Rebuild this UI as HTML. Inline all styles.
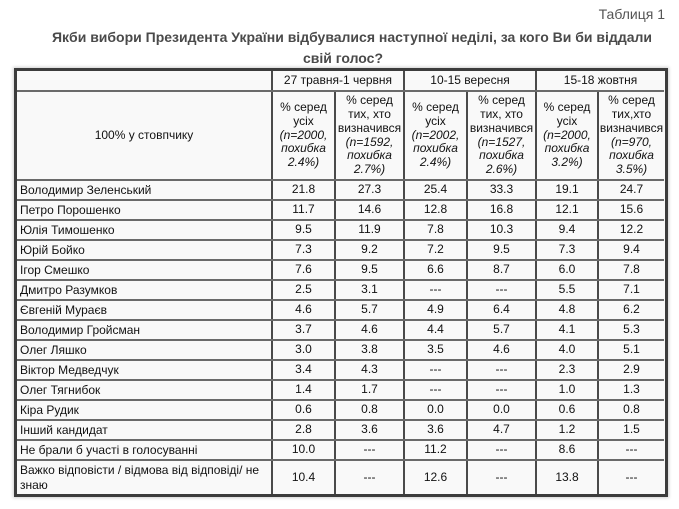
<!DOCTYPE html>
<html>
<head>
<meta charset="utf-8">
<style>
html,body{margin:0;padding:0;background:#fff;}
body{width:679px;height:509px;position:relative;overflow:hidden;font-family:"Liberation Sans",Arial,sans-serif;}
.cap{position:absolute;right:14px;top:6px;font-size:14px;line-height:16px;color:#555;}
.t{position:absolute;width:700px;text-align:center;font-size:14px;font-weight:bold;color:#4a4a4a;line-height:18px;white-space:nowrap;}
.frame{position:absolute;left:14px;top:68px;width:648px;height:423px;border:3px solid #3c3c3c;background:#f9f9f9;box-shadow:0 0 3px 1px rgba(0,0,0,0.18);}
.v{position:absolute;width:2px;background:#4a4a4a;}
.h{position:absolute;height:2px;left:17px;width:647px;background:#6a6a6a;}
.c{position:absolute;display:flex;align-items:center;justify-content:center;text-align:center;font-size:12px;color:#111;line-height:13.8px;white-space:nowrap;}
.c>div{text-align:center;}
.n{position:absolute;display:flex;align-items:center;font-size:12px;color:#111;left:20px;width:250px;line-height:15px;white-space:nowrap;}
i{font-style:italic;}
</style>
</head>
<body>
<div class="cap">Таблиця 1</div>
<div class="t" style="left:2px;top:28px;">Якби вибори Президента України відбувалися наступної неділі, за кого Ви би віддали</div>
<div class="t" style="left:-7px;top:49px;">свій голос?</div>

<div class="frame"></div>

<div class="v" style="left:271px;top:71px;height:423px;"></div>
<div class="v" style="left:403px;top:71px;height:423px;"></div>
<div class="v" style="left:535px;top:71px;height:423px;"></div>
<div class="v" style="left:334px;top:91px;height:403px;"></div>
<div class="v" style="left:466px;top:91px;height:403px;"></div>
<div class="v" style="left:597px;top:91px;height:403px;"></div>

<div class="h" style="top:90px;"></div>
<div class="h" style="top:179px;"></div>
<div class="h" style="top:199px;"></div>
<div class="h" style="top:219px;"></div>
<div class="h" style="top:239px;"></div>
<div class="h" style="top:259px;"></div>
<div class="h" style="top:279px;"></div>
<div class="h" style="top:299px;"></div>
<div class="h" style="top:319px;"></div>
<div class="h" style="top:339px;"></div>
<div class="h" style="top:359px;"></div>
<div class="h" style="top:379px;"></div>
<div class="h" style="top:399px;"></div>
<div class="h" style="top:419px;"></div>
<div class="h" style="top:439px;"></div>
<div class="h" style="top:459px;"></div>

<div class="c" style="left:273px;top:71px;width:130px;height:19px;"><div>27 травня-1 червня</div></div>
<div class="c" style="left:405px;top:71px;width:130px;height:19px;"><div>10-15 вересня</div></div>
<div class="c" style="left:537px;top:71px;width:127px;height:19px;"><div>15-18 жовтня</div></div>

<div class="c" style="left:17px;top:92px;width:254px;height:87px;"><div>100% у стовпчику</div></div>
<div class="c" style="left:273px;top:92px;width:61px;height:87px;"><div>% серед<br>усіх<br><i>(n=2000,</i><br><i>похибка</i><br><i>2.4%)</i></div></div>
<div class="c" style="left:336px;top:92px;width:67px;height:87px;"><div>% серед<br>тих, хто<br>визначився<br><i>(n=1592,</i><br><i>похибка</i><br><i>2.7%)</i></div></div>
<div class="c" style="left:405px;top:92px;width:61px;height:87px;"><div>% серед<br>усіх<br><i>(n=2002,</i><br><i>похибка</i><br><i>2.4%)</i></div></div>
<div class="c" style="left:468px;top:92px;width:67px;height:87px;"><div>% серед<br>тих, хто<br>визначився<br><i>(n=1527,</i><br><i>похибка</i><br><i>2.6%)</i></div></div>
<div class="c" style="left:537px;top:92px;width:60px;height:87px;"><div>% серед<br>усіх<br><i>(n=2000,</i><br><i>похибка</i><br><i>3.2%)</i></div></div>
<div class="c" style="left:599px;top:92px;width:65px;height:87px;"><div>% серед<br>тих,хто<br>визначився<br><i>(n=970,</i><br><i>похибка</i><br><i>3.5%)</i></div></div>

<div class="n" style="top:181px;height:18px;">Володимир Зеленський</div>
<div class="n" style="top:201px;height:18px;">Петро Порошенко</div>
<div class="n" style="top:221px;height:18px;">Юлія Тимошенко</div>
<div class="n" style="top:241px;height:18px;">Юрій Бойко</div>
<div class="n" style="top:261px;height:18px;">Ігор Смешко</div>
<div class="n" style="top:281px;height:18px;">Дмитро Разумков</div>
<div class="n" style="top:301px;height:18px;">Євгеній Мураєв</div>
<div class="n" style="top:321px;height:18px;">Володимир Гройсман</div>
<div class="n" style="top:341px;height:18px;">Олег Ляшко</div>
<div class="n" style="top:361px;height:18px;">Віктор Медведчук</div>
<div class="n" style="top:381px;height:18px;">Олег Тягнибок</div>
<div class="n" style="top:401px;height:18px;">Кіра Рудик</div>
<div class="n" style="top:421px;height:18px;">Інший кандидат</div>
<div class="n" style="top:441px;height:18px;">Не брали б участі в голосуванні</div>
<div class="n" style="top:462px;height:32px;"><div>Важко відповісти / відмова від відповіді/ не<br>знаю</div></div>

<div class="c" style="left:273px;top:181px;width:61px;height:18px;">21.8</div>
<div class="c" style="left:336px;top:181px;width:67px;height:18px;">27.3</div>
<div class="c" style="left:405px;top:181px;width:61px;height:18px;">25.4</div>
<div class="c" style="left:468px;top:181px;width:67px;height:18px;">33.3</div>
<div class="c" style="left:537px;top:181px;width:60px;height:18px;">19.1</div>
<div class="c" style="left:599px;top:181px;width:65px;height:18px;">24.7</div>

<div class="c" style="left:273px;top:201px;width:61px;height:18px;">11.7</div>
<div class="c" style="left:336px;top:201px;width:67px;height:18px;">14.6</div>
<div class="c" style="left:405px;top:201px;width:61px;height:18px;">12.8</div>
<div class="c" style="left:468px;top:201px;width:67px;height:18px;">16.8</div>
<div class="c" style="left:537px;top:201px;width:60px;height:18px;">12.1</div>
<div class="c" style="left:599px;top:201px;width:65px;height:18px;">15.6</div>

<div class="c" style="left:273px;top:221px;width:61px;height:18px;">9.5</div>
<div class="c" style="left:336px;top:221px;width:67px;height:18px;">11.9</div>
<div class="c" style="left:405px;top:221px;width:61px;height:18px;">7.8</div>
<div class="c" style="left:468px;top:221px;width:67px;height:18px;">10.3</div>
<div class="c" style="left:537px;top:221px;width:60px;height:18px;">9.4</div>
<div class="c" style="left:599px;top:221px;width:65px;height:18px;">12.2</div>

<div class="c" style="left:273px;top:241px;width:61px;height:18px;">7.3</div>
<div class="c" style="left:336px;top:241px;width:67px;height:18px;">9.2</div>
<div class="c" style="left:405px;top:241px;width:61px;height:18px;">7.2</div>
<div class="c" style="left:468px;top:241px;width:67px;height:18px;">9.5</div>
<div class="c" style="left:537px;top:241px;width:60px;height:18px;">7.3</div>
<div class="c" style="left:599px;top:241px;width:65px;height:18px;">9.4</div>

<div class="c" style="left:273px;top:261px;width:61px;height:18px;">7.6</div>
<div class="c" style="left:336px;top:261px;width:67px;height:18px;">9.5</div>
<div class="c" style="left:405px;top:261px;width:61px;height:18px;">6.6</div>
<div class="c" style="left:468px;top:261px;width:67px;height:18px;">8.7</div>
<div class="c" style="left:537px;top:261px;width:60px;height:18px;">6.0</div>
<div class="c" style="left:599px;top:261px;width:65px;height:18px;">7.8</div>

<div class="c" style="left:273px;top:281px;width:61px;height:18px;">2.5</div>
<div class="c" style="left:336px;top:281px;width:67px;height:18px;">3.1</div>
<div class="c" style="left:405px;top:281px;width:61px;height:18px;">---</div>
<div class="c" style="left:468px;top:281px;width:67px;height:18px;">---</div>
<div class="c" style="left:537px;top:281px;width:60px;height:18px;">5.5</div>
<div class="c" style="left:599px;top:281px;width:65px;height:18px;">7.1</div>

<div class="c" style="left:273px;top:301px;width:61px;height:18px;">4.6</div>
<div class="c" style="left:336px;top:301px;width:67px;height:18px;">5.7</div>
<div class="c" style="left:405px;top:301px;width:61px;height:18px;">4.9</div>
<div class="c" style="left:468px;top:301px;width:67px;height:18px;">6.4</div>
<div class="c" style="left:537px;top:301px;width:60px;height:18px;">4.8</div>
<div class="c" style="left:599px;top:301px;width:65px;height:18px;">6.2</div>

<div class="c" style="left:273px;top:321px;width:61px;height:18px;">3.7</div>
<div class="c" style="left:336px;top:321px;width:67px;height:18px;">4.6</div>
<div class="c" style="left:405px;top:321px;width:61px;height:18px;">4.4</div>
<div class="c" style="left:468px;top:321px;width:67px;height:18px;">5.7</div>
<div class="c" style="left:537px;top:321px;width:60px;height:18px;">4.1</div>
<div class="c" style="left:599px;top:321px;width:65px;height:18px;">5.3</div>

<div class="c" style="left:273px;top:341px;width:61px;height:18px;">3.0</div>
<div class="c" style="left:336px;top:341px;width:67px;height:18px;">3.8</div>
<div class="c" style="left:405px;top:341px;width:61px;height:18px;">3.5</div>
<div class="c" style="left:468px;top:341px;width:67px;height:18px;">4.6</div>
<div class="c" style="left:537px;top:341px;width:60px;height:18px;">4.0</div>
<div class="c" style="left:599px;top:341px;width:65px;height:18px;">5.1</div>

<div class="c" style="left:273px;top:361px;width:61px;height:18px;">3.4</div>
<div class="c" style="left:336px;top:361px;width:67px;height:18px;">4.3</div>
<div class="c" style="left:405px;top:361px;width:61px;height:18px;">---</div>
<div class="c" style="left:468px;top:361px;width:67px;height:18px;">---</div>
<div class="c" style="left:537px;top:361px;width:60px;height:18px;">2.3</div>
<div class="c" style="left:599px;top:361px;width:65px;height:18px;">2.9</div>

<div class="c" style="left:273px;top:381px;width:61px;height:18px;">1.4</div>
<div class="c" style="left:336px;top:381px;width:67px;height:18px;">1.7</div>
<div class="c" style="left:405px;top:381px;width:61px;height:18px;">---</div>
<div class="c" style="left:468px;top:381px;width:67px;height:18px;">---</div>
<div class="c" style="left:537px;top:381px;width:60px;height:18px;">1.0</div>
<div class="c" style="left:599px;top:381px;width:65px;height:18px;">1.3</div>

<div class="c" style="left:273px;top:401px;width:61px;height:18px;">0.6</div>
<div class="c" style="left:336px;top:401px;width:67px;height:18px;">0.8</div>
<div class="c" style="left:405px;top:401px;width:61px;height:18px;">0.0</div>
<div class="c" style="left:468px;top:401px;width:67px;height:18px;">0.0</div>
<div class="c" style="left:537px;top:401px;width:60px;height:18px;">0.6</div>
<div class="c" style="left:599px;top:401px;width:65px;height:18px;">0.8</div>

<div class="c" style="left:273px;top:421px;width:61px;height:18px;">2.8</div>
<div class="c" style="left:336px;top:421px;width:67px;height:18px;">3.6</div>
<div class="c" style="left:405px;top:421px;width:61px;height:18px;">3.6</div>
<div class="c" style="left:468px;top:421px;width:67px;height:18px;">4.7</div>
<div class="c" style="left:537px;top:421px;width:60px;height:18px;">1.2</div>
<div class="c" style="left:599px;top:421px;width:65px;height:18px;">1.5</div>

<div class="c" style="left:273px;top:441px;width:61px;height:18px;">10.0</div>
<div class="c" style="left:336px;top:441px;width:67px;height:18px;">---</div>
<div class="c" style="left:405px;top:441px;width:61px;height:18px;">11.2</div>
<div class="c" style="left:468px;top:441px;width:67px;height:18px;">---</div>
<div class="c" style="left:537px;top:441px;width:60px;height:18px;">8.6</div>
<div class="c" style="left:599px;top:441px;width:65px;height:18px;">---</div>

<div class="c" style="left:273px;top:461px;width:61px;height:33px;">10.4</div>
<div class="c" style="left:336px;top:461px;width:67px;height:33px;">---</div>
<div class="c" style="left:405px;top:461px;width:61px;height:33px;">12.6</div>
<div class="c" style="left:468px;top:461px;width:67px;height:33px;">---</div>
<div class="c" style="left:537px;top:461px;width:60px;height:33px;">13.8</div>
<div class="c" style="left:599px;top:461px;width:65px;height:33px;">---</div>
</body>
</html>
